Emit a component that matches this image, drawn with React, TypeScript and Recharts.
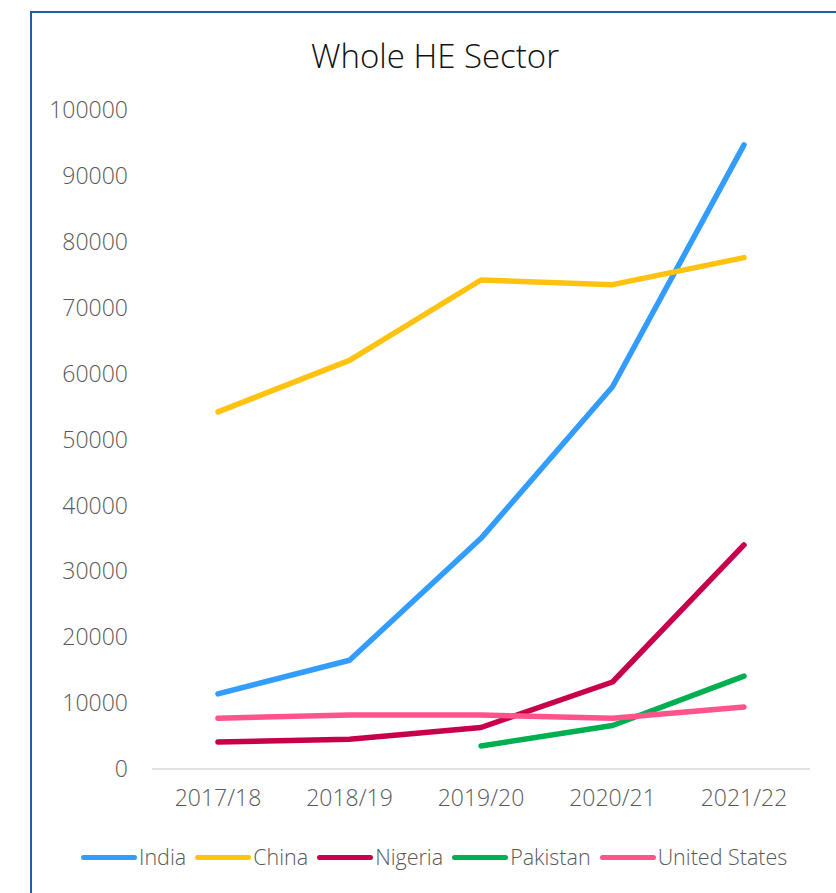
import { LineChart, Line, XAxis, YAxis } from 'recharts';

const years = ['2017/18', '2018/19', '2019/20', '2020/21', '2021/22'];
const india = [11400, 16500, 35000, 58000, 94700];
const china = [54200, 62000, 74200, 73500, 77600];
const nigeria = [4100, 4500, 6300, 13200, 34000];
const pakistan = [null, null, 3500, 6600, 14100];
const unitedStates = [7700, 8200, 8200, 7700, 9400];
const yTicks = [0, 10000, 20000, 30000, 40000, 50000, 60000, 70000, 80000, 90000, 100000];

const seriesList = [
  { key: 'India', values: india, color: '#339CFF' },
  { key: 'China', values: china, color: '#FFC30F' },
  { key: 'Nigeria', values: nigeria, color: '#C8004C' },
  { key: 'Pakistan', values: pakistan, color: '#00B050' },
  { key: 'United States', values: unitedStates, color: '#FF548A' },
];

const chartData = years.map((year, i) => {
  const row: Record<string, string | number | null> = { year };
  seriesList.forEach((s) => {
    row[s.key] = s.values[i];
  });
  return row;
});

const font = '"Open Sans", sans-serif';
const tickStyle = { fill: '#595959', fontSize: 23, fontFamily: font, fontWeight: 300 };

const App = () => {
  return (
    <div style={{ position: 'absolute', left: 0, top: 0, width: 836, height: 893, overflow: 'hidden', background: '#fff' }}>
      <div
        style={{
          position: 'absolute',
          left: 30,
          top: 11,
          width: 812,
          height: 920,
          borderLeft: '2px solid #1F5EA8',
          borderTop: '2px solid #1F5EA8',
          boxSizing: 'border-box',
        }}
      />
      <div
        style={{
          position: 'absolute',
          left: 30,
          width: 810,
          top: 36,
          textAlign: 'center',
          fontFamily: font,
          fontSize: 33,
          fontWeight: 300,
          color: '#111',
          lineHeight: '40px',
        }}
      >
        Whole HE Sector
      </div>
      <div style={{ position: 'absolute', left: 0, top: 0 }}>
        <LineChart width={836} height={893} data={chartData} margin={{ top: 110, right: 26, bottom: 0, left: 0 }}>
          <XAxis
            dataKey="year"
            height={124}
            padding={{ left: 66, right: 66 }}
            axisLine={{ stroke: '#D9D9D9', strokeWidth: 1.5 }}
            tickLine={false}
            tickMargin={15}
            tick={tickStyle}
          />
          <YAxis
            width={152}
            domain={[0, 100000]}
            ticks={yTicks}
            axisLine={false}
            tickLine={false}
            tickMargin={18}
            tick={tickStyle}
            interval={0}
          />
          {seriesList.map((s) => (
            <Line
              key={s.key}
              dataKey={s.key}
              stroke={s.color}
              strokeWidth={5.5}
              strokeLinecap="round"
              strokeLinejoin="round"
              dot={false}
              activeDot={false}
              type="linear"
              isAnimationActive={false}
            />
          ))}
        </LineChart>
      </div>
      <div
        style={{
          position: 'absolute',
          left: 81,
          top: 844,
          display: 'flex',
          alignItems: 'center',
          fontFamily: font,
          fontSize: 21.5,
          fontWeight: 300,
          color: '#595959',
          lineHeight: '26px',
        }}
      >
        {seriesList.map((s) => (
          <div key={s.key} style={{ display: 'flex', alignItems: 'center', marginRight: 9 }}>
            <span style={{ display: 'inline-block', width: 56, height: 5, borderRadius: 3, background: s.color, marginRight: 2 }} />
            <span>{s.key}</span>
          </div>
        ))}
      </div>
    </div>
  );
};

export default App;
